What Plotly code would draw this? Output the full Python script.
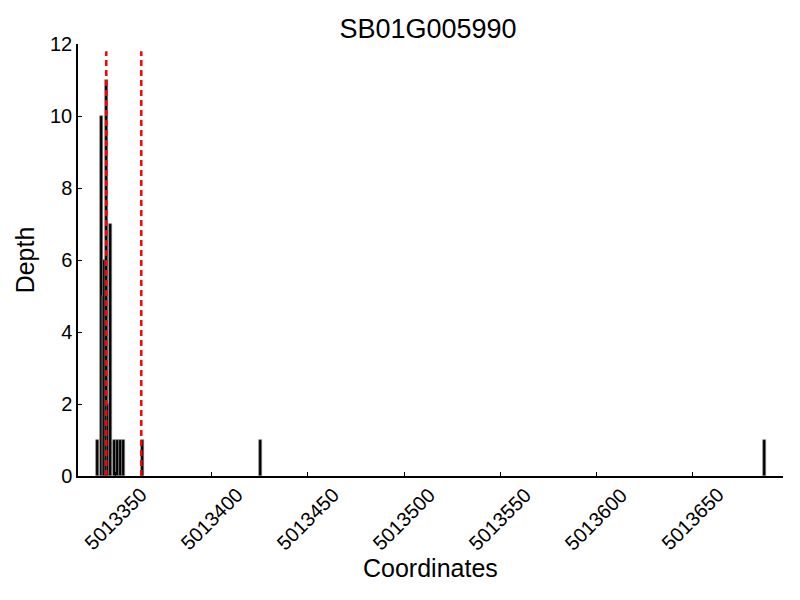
import plotly.graph_objects as go

# Data
positions = [5013340.6, 5013342.5, 5013343.5, 5013344.2, 5013345.3, 5013346.1,
             5013347.3, 5013349.3, 5013350.9, 5013352.4, 5013354.0,
             5013364.0, 5013425.4, 5013687.2]
depths = [1, 10, 5, 6, 11, 2, 7, 1, 1, 1, 1, 1, 1, 1]
boundaries = [5013345.2, 5013363.4]
x_ticks = [5013350, 5013400, 5013450, 5013500, 5013550, 5013600, 5013650]
x_tick_labels = [str(v) for v in x_ticks]
y_ticks = [0, 2, 4, 6, 8, 10, 12]

FONT = "Liberation Sans, Arial, sans-serif"

fig = go.Figure()
fig.add_trace(go.Bar(
    x=positions, y=depths, width=1.5,
    marker=dict(color="black", line=dict(color="#888888", width=0.6)),
    showlegend=False,
))
for b in boundaries:
    fig.add_trace(go.Scatter(
        x=[b, b], y=[0, 11.8], mode="lines",
        line=dict(color="red", width=2.5, dash="6px,4px"),
        showlegend=False, hoverinfo="skip",
    ))

# rotated tick labels centred under their ticks
for v, lab in zip(x_ticks, x_tick_labels):
    fig.add_annotation(
        x=v, xref="x", y=0, yref="paper", text=lab, showarrow=False,
        textangle=-45, xanchor="center", yanchor="top", yshift=-5,
        font=dict(size=20, family=FONT, color="black"),
    )
# x-axis title
fig.add_annotation(
    x=0.5, xref="paper", y=-0.213, yref="paper", text="Coordinates", showarrow=False,
    xanchor="center", yanchor="middle",
    font=dict(size=25, family=FONT, color="black"),
)

fig.update_layout(
    width=800, height=600,
    paper_bgcolor="white", plot_bgcolor="white",
    margin=dict(l=70, r=25, t=36, b=132),
    font=dict(family=FONT, color="black", size=20),
    title=dict(text="SB01G005990", x=0.525, xanchor="center", y=0.966, yanchor="middle",
               font=dict(size=27, family=FONT, color="black")),
    bargap=0,
)
fig.update_xaxes(
    range=[5013330.5, 5013697], tickvals=x_ticks, showticklabels=False, automargin=False,
    ticks="inside", ticklen=4, tickcolor="black",
    showline=True, linecolor="black", linewidth=1.5, showgrid=False, zeroline=False,
)
fig.update_yaxes(
    range=[0, 12], tickvals=y_ticks, automargin=False,
    ticks="inside", ticklen=4, tickcolor="black",
    showline=True, linecolor="black", linewidth=1.5, showgrid=False, zeroline=False,
    tickfont=dict(size=20, family=FONT),
    title=dict(text="Depth", font=dict(size=25, family=FONT), standoff=8),
)

fig.write_html("out.html")
